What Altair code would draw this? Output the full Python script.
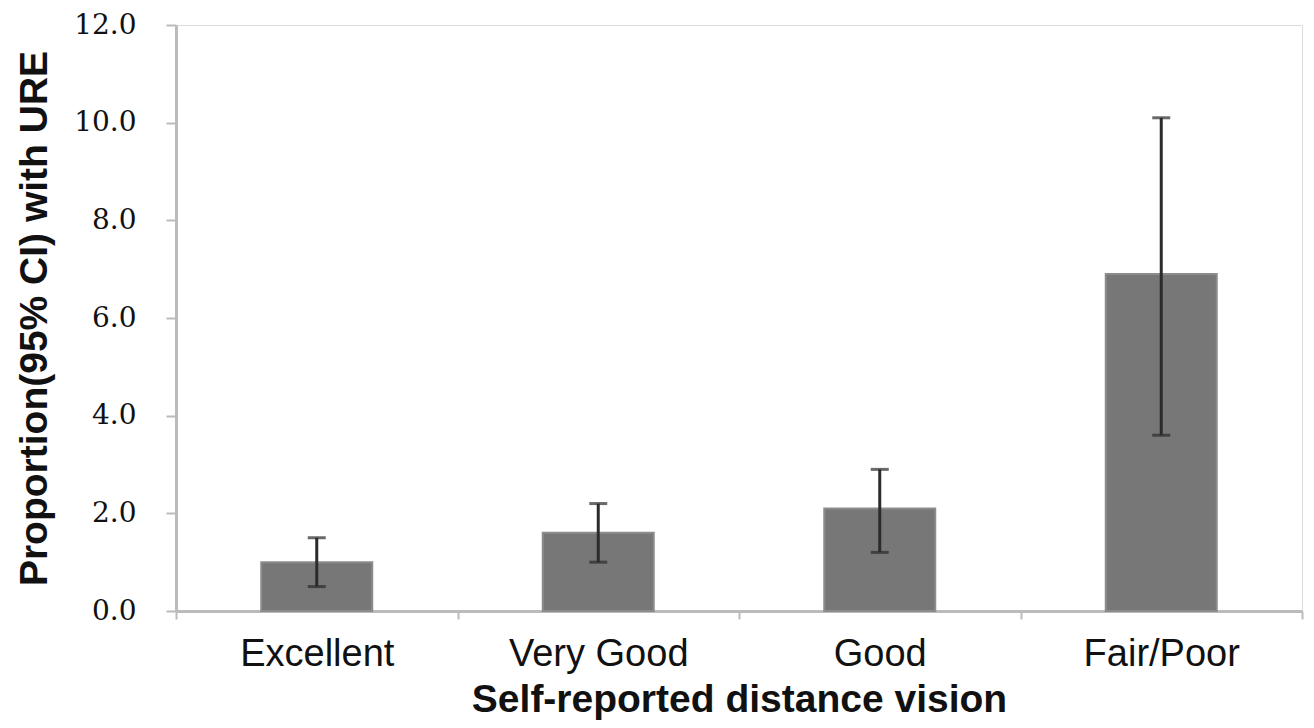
import altair as alt
import pandas as pd

categories = ["Excellent", "Very Good", "Good", "Fair/Poor"]
proportion = [1.0, 1.6, 2.1, 6.9]
ci_low = [0.5, 1.0, 1.2, 3.6]
ci_high = [1.5, 2.2, 2.9, 10.1]

df = pd.DataFrame({
    "cat": categories,
    "value": proportion,
    "lo": ci_low,
    "hi": ci_high,
})

W, H = 1126, 586

x_enc = alt.X(
    "cat:N",
    sort=categories,
    scale=alt.Scale(paddingInner=0, paddingOuter=0),
    axis=alt.Axis(
        title="Self-reported distance vision",
        titleFont="Liberation Sans",
        titleFontSize=39,
        titleFontWeight="bold",
        titleColor="#111111",
        titleY=100,
        titleBaseline="alphabetic",
        labelFont="Liberation Sans",
        labelFontSize=38,
        labelColor="#111111",
        labelAngle=0,
        labelPadding=16,
        tickBand="extent",
        tickSize=8,
        tickWidth=2,
        tickColor="#bbbbbb",
        domainColor="#bbbbbb",
        domainWidth=3,
    ),
)

y_scale = alt.Scale(domain=[0, 12], nice=False)
y_axis = alt.Axis(
    title="Proportion(95% CI) with URE",
    titleFont="Liberation Sans",
    titleFontSize=39,
    titleFontWeight="bold",
    titleColor="#111111",
    titleAngle=-90,
    titleX=-130,
    titleY=H / 2,
    titleAlign="center",
    titleBaseline="alphabetic",
    values=[0, 2, 4, 6, 8, 10, 12],
    format=".1f",
    labelFont="DejaVu Serif",
    labelFontSize=28,
    labelColor="#111111",
    labelPadding=30,
    tickSize=10,
    tickWidth=2,
    tickColor="#bbbbbb",
    domainColor="#bbbbbb",
    domainWidth=3,
    grid=False,
)

bars = alt.Chart(df).mark_bar(
    size=111, color="#777777", stroke="#8c8c8c", strokeWidth=2
).encode(
    x=x_enc,
    y=alt.Y("value:Q", scale=y_scale, axis=y_axis),
)

rules = alt.Chart(df).mark_rule(color="#2b2b2b", strokeWidth=3).encode(
    x=alt.X("cat:N", sort=categories),
    y=alt.Y("lo:Q", scale=y_scale),
    y2="hi:Q",
)

caps_hi = alt.Chart(df).mark_tick(
    orient="horizontal", size=18, thickness=3, color="#2b2b2b"
).encode(
    x=alt.X("cat:N", sort=categories),
    y=alt.Y("hi:Q", scale=y_scale),
)

caps_lo = alt.Chart(df).mark_tick(
    orient="horizontal", size=18, thickness=3, color="#2b2b2b"
).encode(
    x=alt.X("cat:N", sort=categories),
    y=alt.Y("lo:Q", scale=y_scale),
)

chart = alt.layer(bars, rules, caps_hi, caps_lo).properties(
    width=W,
    height=H,
    autosize=alt.AutoSizeParams(type="none"),
    padding={"left": 168, "top": 17, "right": 4, "bottom": 109},
).configure_view(stroke=None).configure(background="white")

chart.save("out.html", embed_options={"renderer": "svg", "actions": False})
